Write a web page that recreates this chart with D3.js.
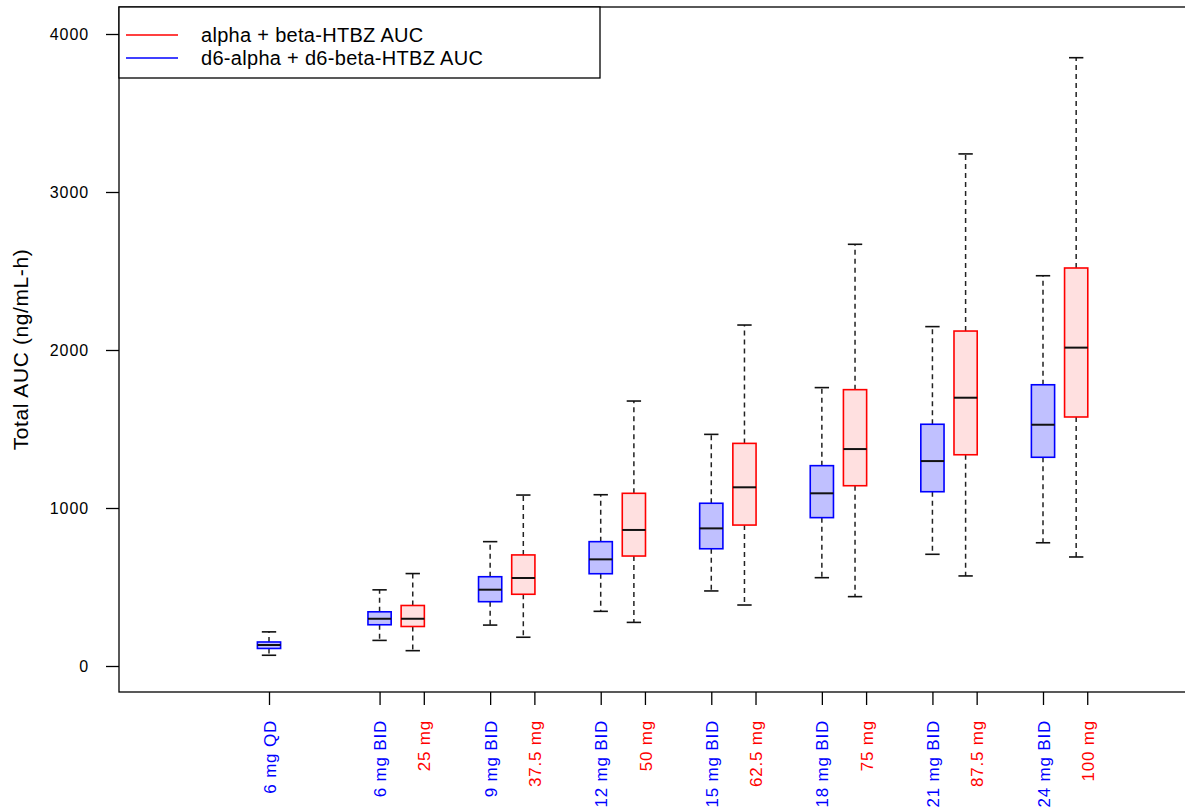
<!DOCTYPE html>
<html>
<head>
<meta charset="utf-8">
<script src="https://cdn.jsdelivr.net/npm/d3@7"></script>
<style>
  body { margin: 0; background: #fff; }
  text { font-family: "Liberation Sans", Arial, sans-serif; }
</style>
</head>
<body>
<svg id="chart" width="1185" height="812"></svg>
<script>
// blue: d6-alpha + d6-beta-HTBZ AUC, stats = [low whisker, q1, median, q3, high whisker]
const blueLabels = ['6 mg QD', '6 mg BID', '9 mg BID', '12 mg BID', '15 mg BID', '18 mg BID', '21 mg BID', '24 mg BID'];
const bluePos = [1, 2, 3, 4, 5, 6, 7, 8];
const blueStats = [
  [68, 111, 133, 152, 216],
  [162, 261, 299, 343, 482],
  [259, 407, 483, 565, 787],
  [346, 584, 675, 787, 1084],
  [475, 742, 871, 1030, 1466],
  [559, 939, 1093, 1268, 1762],
  [707, 1103, 1297, 1530, 2148],
  [780, 1321, 1527, 1780, 2470]
];

// red: alpha + beta-HTBZ AUC
const redLabels = ['25 mg', '37.5 mg', '50 mg', '62.5 mg', '75 mg', '87.5 mg', '100 mg'];
const redPos = [2.3, 3.3, 4.3, 5.3, 6.3, 7.3, 8.3];
const redTickPos = [2.4, 3.4, 4.4, 5.4, 6.4, 7.4, 8.4];
const redStats = [
  [97, 250, 299, 383, 585],
  [182, 454, 557, 703, 1082],
  [276, 696, 861, 1093, 1677],
  [386, 892, 1131, 1409, 2158],
  [439, 1141, 1373, 1749, 2669],
  [570, 1337, 1698, 2120, 3241],
  [690, 1576, 2015, 2519, 3850]
];

const yTicks = [0, 1000, 2000, 3000, 4000];
const legendItems = [
  { label: 'alpha + beta-HTBZ AUC', color: '#ff0000' },
  { label: 'd6-alpha + d6-beta-HTBZ AUC', color: '#0000ff' }
];

const svg = d3.select('#chart');
const plotL = 119, plotT = 7, plotB = 692, plotR = 1190;

const x = d3.scaleLinear().domain([1, 8]).range([269, 1043]);
const y = d3.scaleLinear().domain([0, 4000]).range([666, 34]);
const boxW = 0.21;   // in x units
const capW = 0.13;

// frame
svg.append('rect')
  .attr('x', plotL).attr('y', plotT)
  .attr('width', plotR - plotL).attr('height', plotB - plotT)
  .attr('fill', 'none').attr('stroke', '#000').attr('stroke-width', 1.3);

// y axis
const yAxis = svg.append('g')
  .attr('transform', `translate(${plotL},0)`)
  .call(d3.axisLeft(y).tickValues(yTicks).tickSize(13).tickPadding(17).tickFormat(d3.format('d')));
yAxis.select('.domain').remove();
yAxis.selectAll('line').attr('stroke', '#000').attr('stroke-width', 1.3);
yAxis.selectAll('text')
  .attr('font-size', 16).attr('fill', '#000')
  .style('letter-spacing', '0.9px')
  .style('font-family', '"Liberation Sans", Arial, sans-serif');

svg.append('text')
  .attr('transform', `translate(28,${(plotT + plotB) / 2}) rotate(-90)`)
  .attr('text-anchor', 'middle')
  .attr('font-size', 21)
  .style('letter-spacing', '0.6px')
  .text('Total AUC (ng/mL-h)');

// x axis: blue and red tick labels
const ticks = blueLabels.map((l, i) => ({ pos: bluePos[i], label: l, color: '#0000ff' }))
  .concat(redLabels.map((l, i) => ({ pos: redTickPos[i], label: l, color: '#ff0000' })));

const xAxis = svg.append('g')
  .attr('transform', `translate(0,${plotB})`)
  .call(d3.axisBottom(x).tickValues(ticks.map(t => t.pos)).tickSize(13)
    .tickFormat((d, i) => ticks[i].label));
xAxis.select('.domain').remove();
xAxis.selectAll('line').attr('stroke', '#000').attr('stroke-width', 1.3);
xAxis.selectAll('text')
  .attr('transform', 'rotate(-90)')
  .attr('x', -28).attr('y', 0).attr('dy', '0.36em')
  .attr('text-anchor', 'end')
  .attr('font-size', 17)
  .style('letter-spacing', '0.8px')
  .style('font-family', '"Liberation Sans", Arial, sans-serif')
  .attr('fill', (d, i) => ticks[i].color);

// boxes
function drawBoxes(pos, stats, stroke, fill) {
  const g = svg.append('g');
  stats.forEach((s, i) => {
    const cx = x(pos[i]);
    const half = (x(pos[i] + boxW / 2) - x(pos[i] - boxW / 2)) / 2;
    const capHalf = (x(pos[i] + capW / 2) - x(pos[i] - capW / 2)) / 2;
    // whiskers
    g.append('line')
      .attr('x1', cx).attr('x2', cx).attr('y1', y(s[3])).attr('y2', y(s[4]))
      .attr('stroke', '#222').attr('stroke-width', 1.5).attr('stroke-dasharray', '5,4');
    g.append('line')
      .attr('x1', cx).attr('x2', cx).attr('y1', y(s[1])).attr('y2', y(s[0]))
      .attr('stroke', '#222').attr('stroke-width', 1.5).attr('stroke-dasharray', '5,4');
    [s[0], s[4]].forEach(v => {
      g.append('line')
        .attr('x1', cx - capHalf).attr('x2', cx + capHalf).attr('y1', y(v)).attr('y2', y(v))
        .attr('stroke', '#111').attr('stroke-width', 1.6);
    });
    g.append('rect')
      .attr('x', cx - half).attr('y', y(s[3]))
      .attr('width', half * 2).attr('height', y(s[1]) - y(s[3]))
      .attr('fill', fill).attr('stroke', stroke).attr('stroke-width', 1.6);
    g.append('line')
      .attr('x1', cx - half).attr('x2', cx + half).attr('y1', y(s[2])).attr('y2', y(s[2]))
      .attr('stroke', '#111').attr('stroke-width', 2);
  });
}
drawBoxes(bluePos, blueStats, '#0000ff', '#c0c0ff');
drawBoxes(redPos, redStats, '#ff0000', '#ffe0e0');

// legend
const lg = svg.append('g');
lg.append('rect')
  .attr('x', plotL).attr('y', plotT).attr('width', 600 - plotL).attr('height', 78 - plotT)
  .attr('fill', '#fff').attr('stroke', '#000').attr('stroke-width', 1.3);
legendItems.forEach((d, i) => {
  const ly = 35 + i * 23;
  lg.append('line')
    .attr('x1', 126).attr('x2', 178).attr('y1', ly).attr('y2', ly)
    .attr('stroke', d.color).attr('stroke-width', 1.3);
  lg.append('text')
    .attr('x', 201).attr('y', ly).attr('dy', '0.35em')
    .attr('font-size', 20)
    .style('letter-spacing', '0.3px')
    .text(d.label);
});
</script>
</body>
</html>
